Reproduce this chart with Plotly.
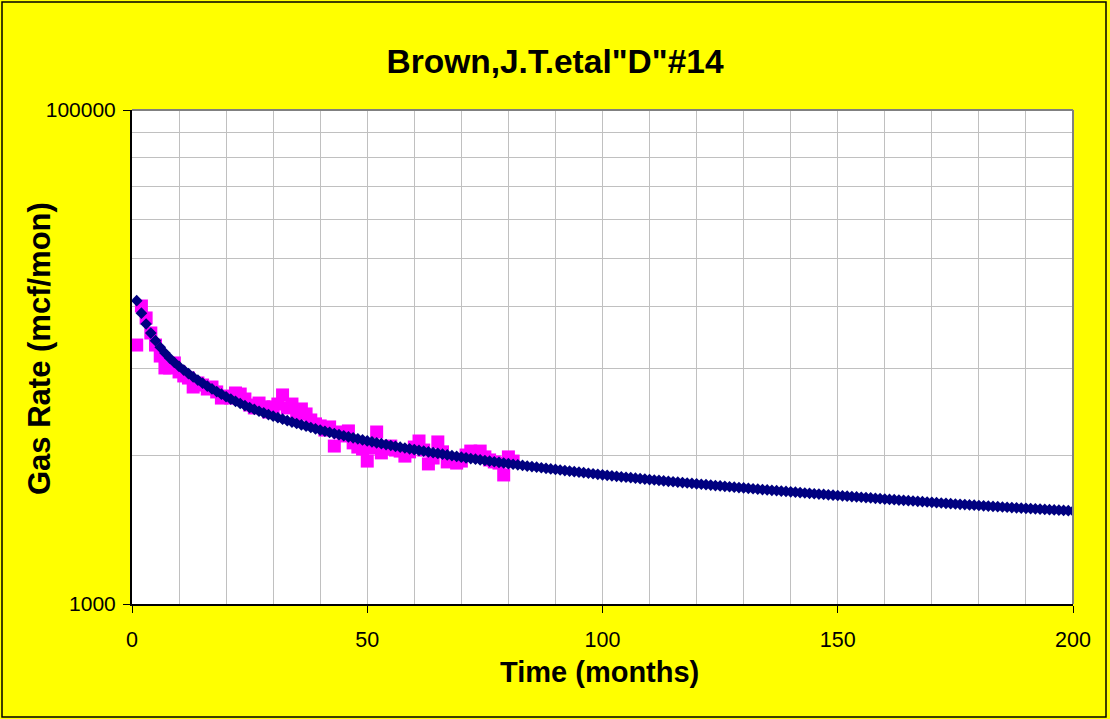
import plotly.graph_objects as go

# ---------------- data ----------------
chart_title = 'Brown,J.T.etal"D"#14'
x_title = "Time (months)"
y_title = "Gas Rate (mcf/mon)"

# measured monthly gas rate (magenta squares), months 1..81
actual_months = list(range(1, 82))
actual_rate = [
    11180, 16090, 14390, 12510, 11180, 10090, 9030, 9030, 9460, 8700,
    8380, 8220, 7560, 7850, 7700, 7420, 7560, 7220, 6820, 6950,
    6820, 7150, 7080, 6760, 6390, 6220, 6510, 6280, 5990, 6280,
    6450, 7020, 6220, 6450, 5820, 6160, 5880, 5560, 5360, 5260,
    5060, 5210, 4360, 4970, 4790, 5020, 4490, 4320, 4240, 3790,
    4280, 4970, 4090, 4240, 4360, 4200, 4160, 3970, 4130, 4320,
    4570, 4200, 3690, 3900, 4530, 4130, 3760, 3830, 3720, 3790,
    4010, 4160, 4130, 4160, 3940, 3830, 3760, 3720, 3330, 3940,
    3790,
]

# forecast / fitted rate (navy diamonds), months 1..200
fit_months = list(range(1, 201))
fit_rate = [
    16900, 15050, 13600, 12500, 11640, 10950, 10380, 9900, 9500, 9160,
    8850, 8565, 8303, 8061, 7836, 7626, 7429, 7244, 7069, 6904,
    6754, 6614, 6482, 6358, 6242, 6133, 6031, 5935, 5845, 5760,
    5678, 5599, 5523, 5450, 5380, 5312, 5246, 5182, 5120, 5060,
    5004, 4950, 4898, 4848, 4800, 4753, 4707, 4662, 4618, 4575,
    4534, 4494, 4456, 4419, 4383, 4348, 4314, 4281, 4249, 4218,
    4187, 4157, 4127, 4098, 4069, 4041, 4013, 3985, 3957, 3930,
    3905, 3881, 3857, 3834, 3811, 3788, 3766, 3744, 3722, 3700,
    3679, 3659, 3639, 3619, 3599, 3580, 3561, 3542, 3523, 3505,
    3487, 3469, 3452, 3435, 3418, 3401, 3384, 3367, 3351, 3335,
    3319, 3304, 3289, 3274, 3260, 3246, 3232, 3218, 3204, 3190,
    3177, 3164, 3151, 3138, 3125, 3113, 3101, 3089, 3077, 3065,
    3053, 3041, 3029, 3017, 3005, 2994, 2983, 2972, 2961, 2950,
    2939, 2928, 2917, 2906, 2895, 2885, 2875, 2865, 2855, 2845,
    2835, 2825, 2815, 2805, 2795, 2786, 2777, 2768, 2759, 2750,
    2741, 2732, 2723, 2714, 2705, 2696, 2687, 2678, 2669, 2660,
    2652, 2644, 2636, 2628, 2620, 2612, 2604, 2596, 2588, 2580,
    2572, 2564, 2556, 2548, 2540, 2533, 2526, 2519, 2512, 2505,
    2498, 2491, 2484, 2477, 2470, 2464, 2458, 2452, 2446, 2440,
    2434, 2428, 2422, 2416, 2410, 2404, 2398, 2392, 2386, 2380,
]

y_tick_vals = [1000, 100000]
y_tick_text = ["1000", "100000"]
y_grid_vals = [4000, 9000, 16000, 25000, 36000, 49000, 64000, 81000]
x_tick_vals = [0, 50, 100, 150, 200]

# ---------------- figure ----------------
W, H = 1110, 719
ML, MR, MT, MB = 132, 37, 110, 115
PW, PH = W - ML - MR, H - MT - MB

FONT = "Liberation Sans, Arial, sans-serif"
GRID = "#C0C0C0"

fig = go.Figure()
fig.add_trace(go.Scatter(
    x=actual_months, y=actual_rate, mode="markers",
    marker=dict(symbol="square", size=13, color="#FF00FF", line=dict(width=0)),
    showlegend=False, hoverinfo="x+y",
))
fig.add_trace(go.Scatter(
    x=fit_months, y=fit_rate, mode="markers",
    marker=dict(symbol="diamond", size=9, color="#000080", line=dict(width=0)),
    showlegend=False, hoverinfo="x+y",
))

fig.update_layout(
    width=W, height=H,
    margin=dict(l=ML, r=MR, t=MT, b=MB, pad=0),
    paper_bgcolor="#FFFF00",
    plot_bgcolor="#FFFFFF",
    font=dict(family=FONT, color="#000000", size=21),
    title=dict(
        text=chart_title, x=0.5, xref="container", xanchor="center",
        y=1 - 61 / H, yref="container", yanchor="middle",
        font=dict(family=FONT, size=33.5, color="#000000", weight="bold"),
    ),
    xaxis=dict(
        range=[0, 200], tickmode="array", tickvals=x_tick_vals,
        ticks="outside", ticklen=7, tickwidth=1, tickcolor="#000000",
        showline=True, linecolor="#000000", linewidth=2,
        showgrid=True, gridcolor=GRID, gridwidth=1,
        minor=dict(dtick=10, tick0=0, showgrid=True, gridcolor=GRID, gridwidth=1, ticks=""),
        zeroline=False, ticklabelstandoff=8,
        tickfont=dict(family=FONT, size=21.5, color="#000000"),
    ),
    yaxis=dict(
        type="log", range=[3, 5], tickmode="array",
        tickvals=y_tick_vals, ticktext=y_tick_text,
        ticks="outside", ticklen=7, tickwidth=1, tickcolor="#000000",
        showline=True, linecolor="#000000", linewidth=2,
        showgrid=True, gridcolor=GRID, gridwidth=1,
        minor=dict(tickmode="array", tickvals=y_grid_vals, showgrid=True,
                   gridcolor=GRID, gridwidth=1, ticks=""),
        zeroline=False, ticklabelstandoff=3,
        tickfont=dict(family=FONT, size=21, color="#000000"),
    ),
)

# axis titles as annotations for exact placement
fig.add_annotation(
    text=y_title, textangle=-90, showarrow=False,
    xref="paper", yref="paper", x=(39 - ML) / PW, y=(H - MB - 349) / PH,
    xanchor="center", yanchor="middle",
    font=dict(family=FONT, size=31, color="#000000", weight="bold"),
)
fig.add_annotation(
    text=x_title, showarrow=False,
    xref="paper", yref="paper", x=(599 - ML) / PW, y=(H - MB - 672) / PH,
    xanchor="center", yanchor="middle",
    font=dict(family=FONT, size=29, color="#000000", weight="bold"),
)

# grey top/right frame of plot area
fig.add_shape(type="line", xref="paper", yref="paper", x0=0, x1=1, y0=1, y1=1,
              line=dict(color="#808080", width=2), layer="above")
fig.add_shape(type="line", xref="paper", yref="paper", x0=1, x1=1, y0=0, y1=1,
              line=dict(color="#808080", width=2), layer="above")
# outer chart border
fig.add_shape(type="rect", xref="paper", yref="paper",
              x0=(2 - ML) / PW, x1=(1106 - ML) / PW,
              y0=-(H - 2 - (H - MB)) / PH, y1=(H - MB - 2) / PH,
              line=dict(color="#000000", width=1.5), fillcolor="rgba(0,0,0,0)",
              layer="above")

fig.write_html(
    "out.html",
    config={"displayModeBar": False},
    post_script="document.body.style.margin='0';document.body.style.overflow='hidden';",
)
